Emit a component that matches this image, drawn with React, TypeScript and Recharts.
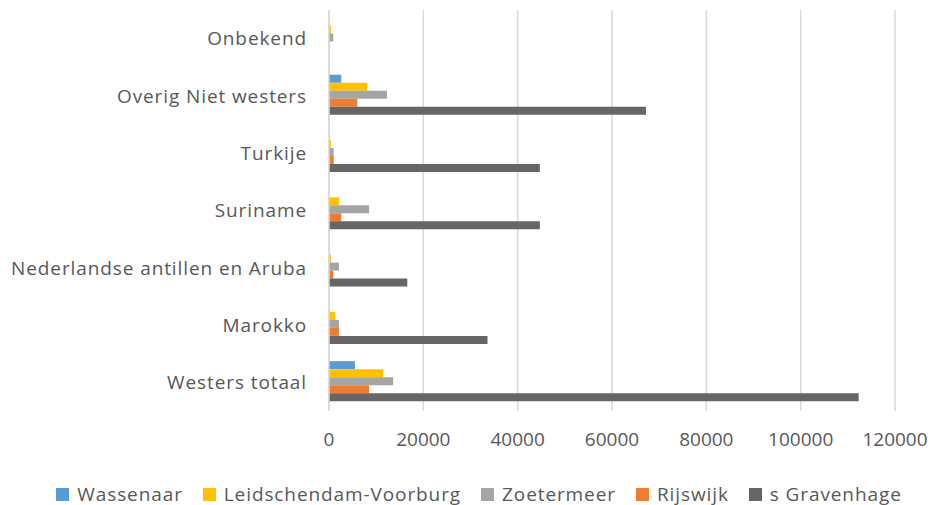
import React from 'react';
import { BarChart, Bar, XAxis, YAxis, CartesianGrid, Legend } from 'recharts';

const categories = [
  'Onbekend',
  'Overig Niet westers',
  'Turkije',
  'Suriname',
  'Nederlandse antillen en Aruba',
  'Marokko',
  'Westers totaal',
];

const wassenaar = [0, 2600, 0, 0, 0, 0, 5500];
const leidschendamVoorburg = [400, 8100, 400, 2100, 400, 1300, 11500];
const zoetermeer = [900, 12300, 1000, 8500, 2100, 2100, 13600];
const rijswijk = [0, 6000, 1000, 2600, 900, 2100, 8500];
const sGravenhage = [0, 67200, 44700, 44700, 16600, 33600, 112300];

const xTicks = [0, 20000, 40000, 60000, 80000, 100000, 120000];

const series = [
  { key: 'Wassenaar', values: wassenaar, color: '#5B9BD5' },
  { key: 'Leidschendam-Voorburg', values: leidschendamVoorburg, color: '#FFC000' },
  { key: 'Zoetermeer', values: zoetermeer, color: '#A5A5A5' },
  { key: 'Rijswijk', values: rijswijk, color: '#ED7D31' },
  { key: 's Gravenhage', values: sGravenhage, color: '#666666' },
];

const data = categories.map((name, i) => {
  const row: Record<string, string | number> = { name };
  series.forEach((s) => {
    row[s.key] = s.values[i];
  });
  return row;
});

const font = '"Open Sans", sans-serif';
const textColor = '#595959';

// keep legend in series order (recharts sorts by name otherwise)
const LegendContent = () => (
  <div
    style={{
      display: 'flex',
      justifyContent: 'center',
      alignItems: 'center',
      boxSizing: 'border-box',
      height: 28,
      paddingTop: 6,
      paddingLeft: 28,
      fontSize: 19,
      lineHeight: '22px',
      letterSpacing: 0.9,
      whiteSpace: 'nowrap',
      color: textColor,
      fontFamily: font,
    }}
  >
    {series.map((s, i) => (
      <div
        key={s.key}
        style={{
          display: 'flex',
          alignItems: 'center',
          flexShrink: 0,
          marginLeft: i === 0 ? 0 : 20,
        }}
      >
        <span style={{ width: 13, height: 13, background: s.color, marginRight: 8 }} />
        <span>{s.key}</span>
      </div>
    ))}
  </div>
);

export default function App() {
  return (
    <div style={{ position: 'absolute', left: 0, top: 0, fontFamily: font }}>
      <BarChart
        width={930}
        height={505}
        data={data}
        layout="vertical"
        margin={{ top: 10, right: 35, left: 0, bottom: 0 }}
        barGap={0}
        barCategoryGap="13%"
      >
        <CartesianGrid horizontal={false} stroke="#d9d9d9" strokeWidth={1.5} />
        <XAxis
          type="number"
          domain={[0, 120000]}
          ticks={xTicks}
          axisLine={false}
          tickLine={false}
          tickMargin={16}
          height={66}
          tick={{ fill: textColor, fontSize: 19, fontFamily: font }}
        />
        <YAxis
          type="category"
          dataKey="name"
          width={329}
          axisLine={{ stroke: '#d9d9d9', strokeWidth: 1.5 }}
          tickLine={false}
          tickSize={0}
          tickMargin={22}
          tick={{ fill: textColor, fontSize: 19, fontFamily: font, letterSpacing: 0.9 }}
        />
        <Legend
          verticalAlign="bottom"
          content={<LegendContent />}
          wrapperStyle={{ bottom: 0, left: 0, width: 930 }}
        />
        {series.map((s) => (
          <Bar key={s.key} dataKey={s.key} fill={s.color} isAnimationActive={false} />
        ))}
      </BarChart>
    </div>
  );
}
